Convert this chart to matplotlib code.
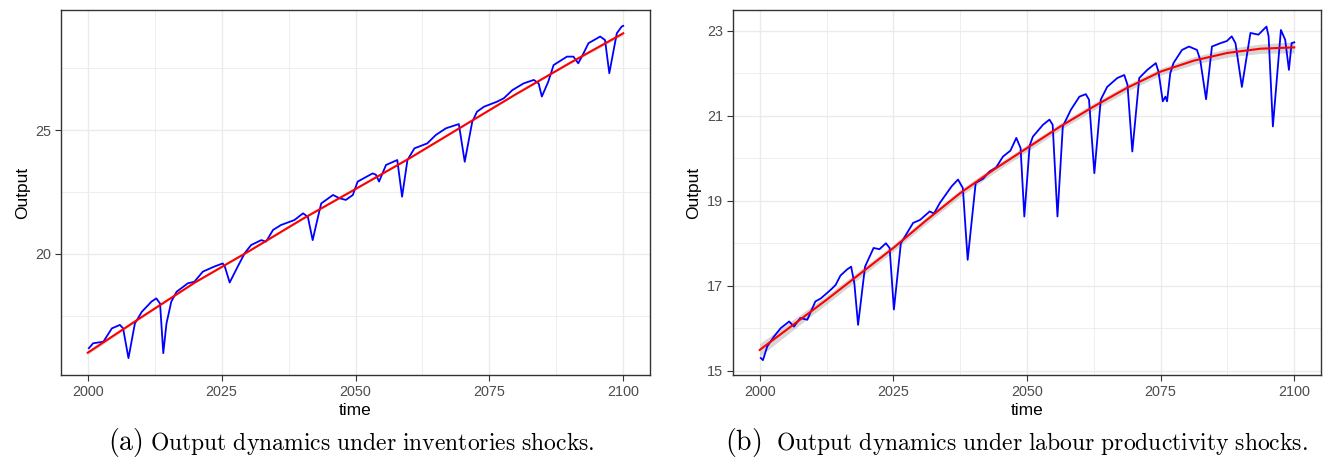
import matplotlib
matplotlib.use("Agg")
import matplotlib.pyplot as plt
import numpy as np
from matplotlib.ticker import MultipleLocator

plt.rcParams["mathtext.fontset"] = "cm"
SANS = ["Liberation Sans", "DejaVu Sans"]

# %% data
inv_year = [2000.2, 2001.0, 2002.9, 2004.5, 2006.0, 2006.6, 2007.6, 2008.8, 2010.1, 2011.9,
            2012.8, 2013.5, 2014.1, 2014.7, 2015.6, 2016.6, 2018.7, 2019.9, 2021.5, 2023.6,
            2025.2, 2025.6, 2026.5, 2028.0, 2029.3, 2030.5, 2032.4, 2033.3, 2034.6, 2036.1,
            2038.6, 2040.2, 2041.1, 2042.0, 2043.0, 2043.6, 2045.8, 2047.0, 2048.2, 2049.5,
            2050.4, 2053.2, 2053.8, 2054.4, 2055.7, 2057.8, 2058.7, 2059.7, 2061.0, 2063.4,
            2065.0, 2066.9, 2069.3, 2070.4, 2071.8, 2072.7, 2074.0, 2076.4, 2077.7, 2079.3,
            2081.4, 2083.3, 2084.2, 2084.8, 2086.0, 2087.0, 2089.5, 2090.7, 2091.6, 2092.6,
            2093.5, 2095.7, 2096.6, 2097.4, 2098.8, 2099.7, 2100.0]
inv_output = [16.20, 16.40, 16.46, 17.00, 17.14, 17.00, 15.80, 17.20, 17.67, 18.08,
              18.21, 18.00, 16.00, 17.20, 18.08, 18.48, 18.82, 18.88, 19.29, 19.49,
              19.62, 19.49, 18.85, 19.49, 20.03, 20.36, 20.56, 20.50, 20.97, 21.17,
              21.37, 21.64, 21.50, 20.56, 21.50, 22.04, 22.38, 22.25, 22.18, 22.38,
              22.92, 23.25, 23.20, 22.92, 23.59, 23.79, 22.31, 23.79, 24.26, 24.46,
              24.80, 25.07, 25.24, 23.72, 25.33, 25.74, 25.94, 26.14, 26.28, 26.61,
              26.88, 27.02, 26.88, 26.35, 26.95, 27.62, 27.96, 27.96, 27.69, 28.10,
              28.50, 28.77, 28.63, 27.29, 28.90, 29.17, 29.20]
inv_fit_year = [2000, 2010, 2020, 2030, 2040, 2050, 2060, 2070, 2080, 2090, 2100]
inv_fit = [16.02, 17.45, 18.85, 20.10, 21.40, 22.62, 23.85, 25.15, 26.45, 27.70, 28.90]
inv_se = [0.07, 0.04, 0.03, 0.03, 0.03, 0.03, 0.03, 0.03, 0.03, 0.04, 0.07]

lab_year = [2000.2, 2000.6, 2001.4, 2002.7, 2003.9, 2005.5, 2006.4, 2007.6, 2008.9, 2010.4,
            2011.4, 2012.6, 2013.4, 2014.2, 2015.1, 2016.3, 2017.1, 2017.7, 2018.4, 2019.7,
            2021.3, 2022.4, 2023.6, 2024.3, 2025.1, 2026.4, 2028.7, 2030.0, 2031.8, 2032.6,
            2033.7, 2035.9, 2037.1, 2038.0, 2038.9, 2040.4, 2041.8, 2043.0, 2044.2, 2045.5,
            2046.9, 2048.0, 2048.8, 2049.5, 2050.5, 2051.1, 2053.0, 2054.2, 2054.8, 2055.7,
            2056.7, 2058.2, 2059.8, 2061.0, 2061.6, 2062.6, 2063.8, 2065.0, 2066.9, 2068.2,
            2068.8, 2069.7, 2071.0, 2072.5, 2074.1, 2074.6, 2075.4, 2075.9, 2076.2, 2076.8,
            2077.4, 2079.0, 2080.3, 2081.8, 2082.4, 2083.5, 2084.6, 2086.2, 2087.4, 2088.3,
            2089.0, 2090.2, 2091.8, 2093.3, 2094.8, 2095.2, 2096.0, 2097.5, 2098.3, 2099.0,
            2099.5, 2100.0]
lab_output = [15.30, 15.25, 15.57, 15.81, 16.00, 16.16, 16.04, 16.24, 16.20, 16.63,
              16.70, 16.83, 16.92, 17.02, 17.24, 17.38, 17.45, 17.06, 16.08, 17.45,
              17.89, 17.86, 18.00, 17.89, 16.44, 18.00, 18.48, 18.55, 18.75, 18.70,
              18.95, 19.34, 19.50, 19.30, 17.61, 19.42, 19.52, 19.69, 19.78, 20.04,
              20.18, 20.48, 20.24, 18.63, 20.30, 20.51, 20.79, 20.91, 20.79, 18.63,
              20.75, 21.14, 21.45, 21.51, 21.38, 19.65, 21.38, 21.68, 21.89, 21.96,
              21.73, 20.16, 21.89, 22.08, 22.24, 22.04, 21.34, 21.45, 21.34, 22.00,
              22.24, 22.55, 22.63, 22.55, 22.32, 21.39, 22.63, 22.71, 22.76, 22.87,
              22.71, 21.68, 22.95, 22.91, 23.10, 22.87, 20.75, 23.02, 22.79, 22.08,
              22.71, 22.73]
lab_fit_year = [2000, 2006.25, 2012.5, 2018.75, 2025, 2031.25, 2037.5, 2043.75, 2050,
                2056.25, 2062.5, 2068.75, 2075, 2081.25, 2087.5, 2093.75, 2100]
lab_fit = [15.49, 16.08, 16.67, 17.28, 17.89, 18.55, 19.18, 19.73, 20.24,
           20.75, 21.22, 21.66, 22.04, 22.30, 22.48, 22.58, 22.61]
lab_se = [0.15, 0.12, 0.10, 0.09, 0.08, 0.08, 0.08, 0.08, 0.08,
          0.08, 0.08, 0.08, 0.08, 0.09, 0.10, 0.11, 0.13]

tags = ["(a)", "(b)"]
captions = ["Output dynamics under inventories shocks.",
            "Output dynamics under labour productivity shocks."]

# %% figure
W, H = 1323, 461
fig = plt.figure(figsize=(W / 100, H / 100), dpi=100)
ax_a = fig.add_axes([61 / W, 86 / H, 589 / W, 365 / H])
ax_b = fig.add_axes([733 / W, 86 / H, 588 / W, 365 / H])


def style(ax, ylim, ymajor, yminor):
    ax.set_xlim(1995, 2105)
    ax.set_ylim(*ylim)
    ax.xaxis.set_major_locator(MultipleLocator(25))
    ax.xaxis.set_minor_locator(MultipleLocator(12.5))
    ax.yaxis.set_major_locator(MultipleLocator(ymajor))
    ax.yaxis.set_minor_locator(MultipleLocator(yminor))
    ax.grid(which="major", color="#EBEBEB", lw=1.0)
    ax.grid(which="minor", color="#EBEBEB", lw=0.6)
    ax.set_axisbelow(True)
    for s in ax.spines.values():
        s.set_color("#333333")
        s.set_linewidth(1.0)
    ax.tick_params(which="major", length=4, width=0.8, color="#333333",
                   labelsize=10.4, labelcolor="#4D4D4D", pad=3)
    ax.tick_params(which="minor", length=0)
    for lab in ax.get_xticklabels() + ax.get_yticklabels():
        lab.set_family(SANS)
    ax.set_xlabel("time", fontsize=12.5, labelpad=3, family=SANS)
    ax.set_ylabel("Output", fontsize=12.5, labelpad=4, family=SANS)


for ax, yr, out, fy, fv, se in [
    (ax_a, inv_year, inv_output, inv_fit_year, inv_fit, inv_se),
    (ax_b, lab_year, lab_output, lab_fit_year, lab_fit, lab_se),
]:
    ax.plot(yr, out, color="blue", lw=1.3, zorder=3)
    fv = np.array(fv)
    se = np.array(se)
    ax.fill_between(fy, fv - se, fv + se, color="#999999", alpha=0.4, lw=0, zorder=2)
    ax.plot(fy, fv, color="red", lw=1.5, zorder=4)

style(ax_a, (15.12, 29.84), 5, 2.5)
style(ax_b, (14.9, 23.49), 2, 1)
ax_b.set_yticks([15, 17, 19, 21, 23])

# captions under each panel, Computer Modern look
for x0, x1, tag, text in [(108, 150, tags[0], captions[0]),
                          (725, 776, tags[1], captions[1])]:
    fig.text(x0 / W, 11 / H, r"$\mathrm{" + tag + "}$", ha="left", va="baseline",
             fontsize=20)
    fig.text(x1 / W, 11 / H, r"$\mathrm{" + text.replace(" ", r"\ ") + "}$",
             ha="left", va="baseline", fontsize=17)

fig.savefig("out.png", dpi=100)
